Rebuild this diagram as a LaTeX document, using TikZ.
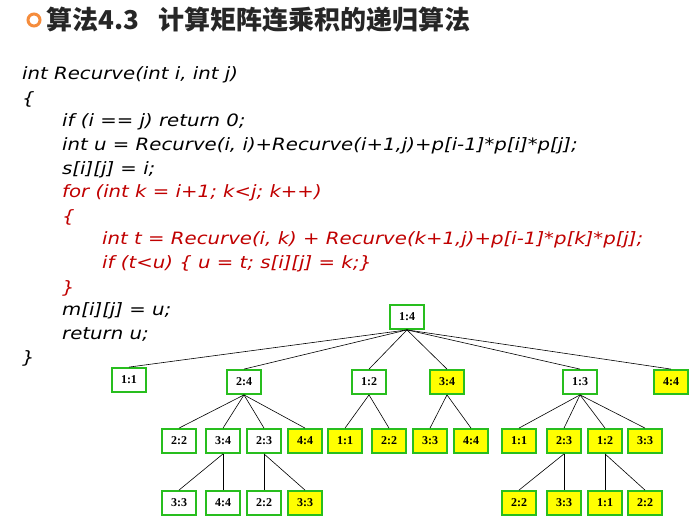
\documentclass[tikz,border=0pt]{standalone}
\usepackage{fontspec}
\setmainfont{Liberation Serif}
\newfontfamily\codefont[FakeStretch=1.16]{DejaVu Sans}
\newfontfamily\cjk{Noto Sans CJK SC}
\definecolor{gr}{RGB}{40,190,30}
\definecolor{yl}{RGB}{255,255,0}
\definecolor{dred}{RGB}{192,0,0}
\definecolor{org}{RGB}{245,140,60}
\begin{document}
\begin{tikzpicture}[x=1pt,y=-1pt,
  bx/.style={draw=gr,line width=1.8pt,fill=white,minimum width=34pt,minimum height=24pt,inner sep=0pt,font=\fontsize{12}{12}\selectfont\bfseries},
  by/.style={bx,fill=yl},
  cl/.style={anchor=west,inner sep=0pt,font=\codefont\itshape\fontsize{17}{17}\selectfont},
  ed/.style={draw=black,line width=0.6pt}]
\useasboundingbox (0,0) rectangle (692,526);
\node[circle,draw=org,line width=3pt,minimum size=12pt,inner sep=0pt] (bul) at (34,20) {};
\node[anchor=west,inner sep=0pt,text=black!85,font=\cjk\bfseries\fontsize{26}{26}\selectfont] (ttl) at (46,20) {算法4.3\hspace{20pt}计算矩阵连乘积的递归算法};
\node[cl] (c1) at (22,75) {int Recurve(int i, int j)};
\node[cl] (c2) at (22,99) {\{};
\node[cl] (c3) at (62,122) {if (i == j) return 0;};
\node[cl] (c4) at (62,146) {int u = Recurve(i, i)+Recurve(i+1,j)+p[i-1]*p[i]*p[j];};
\node[cl] (c5) at (62,170) {s[i][j] = i;};
\node[cl,text=dred] (c6) at (62,193) {for (int k = i+1; k<j; k++)};
\node[cl,text=dred] (c7) at (62,217) {\{};
\node[cl,text=dred] (c8) at (102,240) {int t = Recurve(i, k) + Recurve(k+1,j)+p[i-1]*p[k]*p[j];};
\node[cl,text=dred] (c9) at (102,264) {if (t<u) \{ u = t; s[i][j] = k;\}};
\node[cl,text=dred] (c10) at (62,288) {\}};
\node[cl] (c11) at (62,311) {m[i][j] = u;};
\node[cl] (c12) at (62,335) {return u;};
\node[cl] (c13) at (22,358) {\}};
% tree
\node[bx] (r) at (407,317) {1:4};
\node[bx] (a1) at (129,380) {1:1};
\node[bx] (a2) at (244,382) {2:4};
\node[bx] (a3) at (369,382) {1:2};
\node[by] (a4) at (447,382) {3:4};
\node[bx] (a5) at (580,382) {1:3};
\node[by] (a6) at (671,382) {4:4};
\node[bx] (b1) at (179,441) {2:2};
\node[bx] (b2) at (223,441) {3:4};
\node[bx] (b3) at (264,441) {2:3};
\node[by] (b4) at (305,441) {4:4};
\node[by] (b5) at (345,441) {1:1};
\node[by] (b6) at (389,441) {2:2};
\node[by] (b7) at (430,441) {3:3};
\node[by] (b8) at (471,441) {4:4};
\node[by] (b9) at (519,441) {1:1};
\node[by] (b10) at (564,441) {2:3};
\node[by] (b11) at (605,441) {1:2};
\node[by] (b12) at (645,441) {3:3};
\node[bx] (d1) at (179,503) {3:3};
\node[bx] (d2) at (223,503) {4:4};
\node[bx] (d3) at (264,503) {2:2};
\node[by] (d4) at (305,503) {3:3};
\node[by] (d5) at (519,503) {2:2};
\node[by] (d6) at (564,503) {3:3};
\node[by] (d7) at (605,503) {1:1};
\node[by] (d8) at (645,503) {2:2};
\foreach \c in {a1,a2,a3,a4,a5,a6} \draw[ed] (r.south) -- (\c.north);
\foreach \c in {b1,b2,b3,b4} \draw[ed] (a2.south) -- (\c.north);
\foreach \c in {b5,b6} \draw[ed] (a3.south) -- (\c.north);
\foreach \c in {b7,b8} \draw[ed] (a4.south) -- (\c.north);
\foreach \c in {b9,b10,b11,b12} \draw[ed] (a5.south) -- (\c.north);
\foreach \c in {d1,d2} \draw[ed] (b2.south) -- (\c.north);
\foreach \c in {d3,d4} \draw[ed] (b3.south) -- (\c.north);
\foreach \c in {d5,d6} \draw[ed] (b10.south) -- (\c.north);
\foreach \c in {d7,d8} \draw[ed] (b11.south) -- (\c.north);
\end{tikzpicture}
\end{document}
